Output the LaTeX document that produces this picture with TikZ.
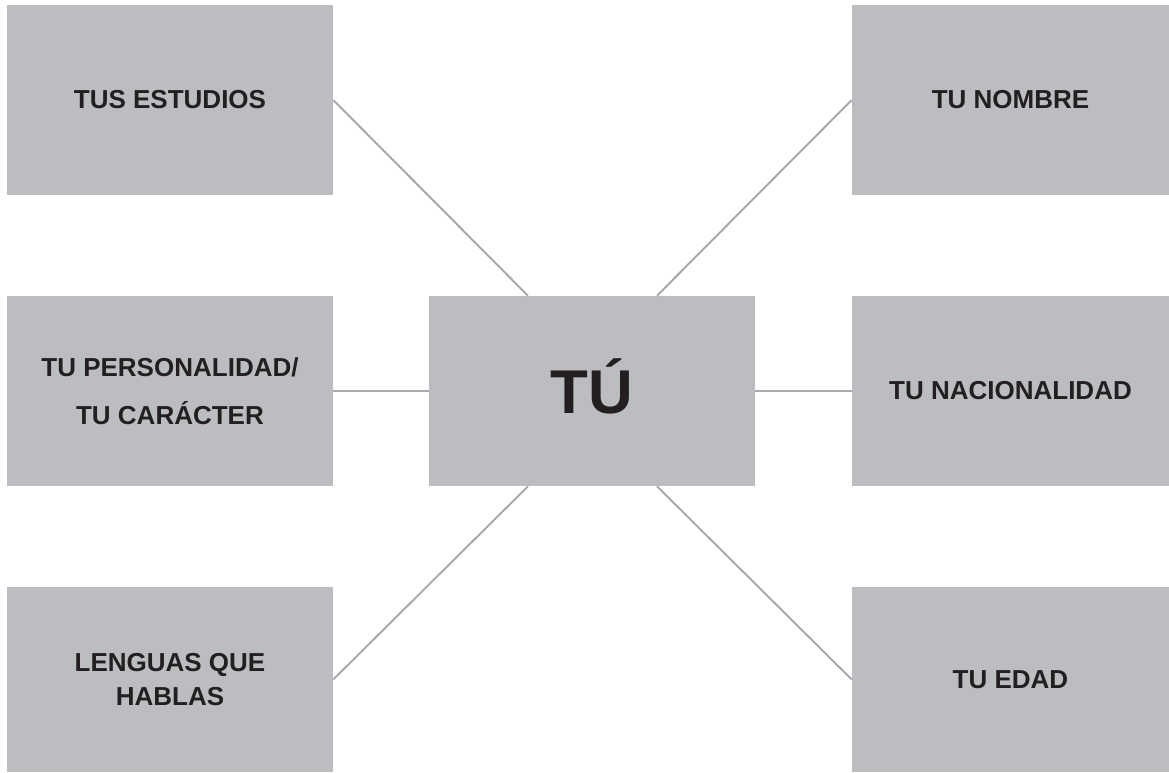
\documentclass[tikz,border=0pt]{standalone}
\usepackage{fontspec}
\setmainfont{Liberation Sans}
\usepackage{xcolor}
\usetikzlibrary{positioning,calc}
\definecolor{boxgray}{RGB}{188,189,193}
\definecolor{inkblack}{RGB}{35,31,32}
\definecolor{linegray}{RGB}{167,169,172}

\begin{document}
\begin{tikzpicture}[
    box/.style={fill=boxgray, inner sep=0pt, align=center, text=inkblack, font=\fontsize{18.5}{24}\selectfont\bfseries},
    side/.style={box, minimum width=8.15cm, minimum height=4.75cm},
    rside/.style={box, minimum width=7.925cm, minimum height=4.75cm},
    link/.style={draw=linegray, line width=1.4pt}
]
\useasboundingbox (0,0) rectangle (29.225,-19.3);

% Centre
\node[side, font=\fontsize{44}{50}\selectfont\bfseries, text height=31.5pt, text depth=0pt] (tu) at (14.8,-9.775) {TÚ};

% Left column
\node[side] (estudios) at (4.25,-2.5) {TUS ESTUDIOS};
\node[side] (personalidad) at (4.25,-9.775) {TU PERSONALIDAD/\\[10pt]TU CARÁCTER};
\node[side, minimum height=4.625cm] (lenguas) at (4.25,-16.9875) {LENGUAS QUE\\HABLAS};

% Right column
\node[rside] (nombre) at (25.2625,-2.5) {TU NOMBRE};
\node[rside] (nacionalidad) at (25.2625,-9.775) {TU NACIONALIDAD};
\node[rside, minimum height=4.625cm] (edad) at (25.2625,-16.9875) {TU EDAD};

% Links
\draw[link] (estudios.east) -- ($(tu.north)+(-1.6,0)$);
\draw[link] (nombre.west) -- ($(tu.north)+(1.625,0)$);
\draw[link] (personalidad) -- (tu);
\draw[link] (tu) -- (nacionalidad);
\draw[link] ($(tu.south)+(-1.6,0)$) -- (lenguas.east);
\draw[link] ($(tu.south)+(1.625,0)$) -- (edad.west);

\end{tikzpicture}
\end{document}
